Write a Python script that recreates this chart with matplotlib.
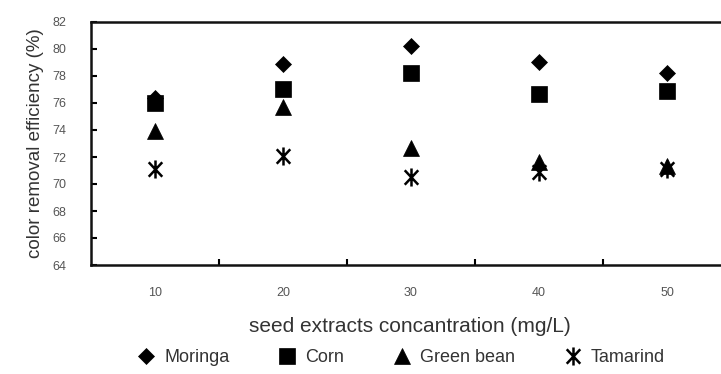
import matplotlib.pyplot as plt
from matplotlib.path import Path

conc = ["10", "20", "30", "40", "50"]
moringa = [76.4, 78.9, 80.2, 79.0, 78.2]
corn = [76.0, 77.0, 78.2, 76.7, 76.9]
green_bean = [73.9, 75.7, 72.7, 71.6, 71.3]
tamarind = [71.1, 72.1, 70.5, 70.9, 71.1]

plt.rcParams['font.family'] = ['Liberation Sans', 'DejaVu Sans']

# vertical bar plus an X, like the original's star marker
M, L = Path.MOVETO, Path.LINETO
star = Path([(0, -1), (0, 1), (-0.75, -0.8), (0.75, 0.8), (-0.75, 0.8), (0.75, -0.8)],
            [M, L, M, L, M, L])

W, H = 721, 374
fig = plt.figure(figsize=(W / 100, H / 100), dpi=100)
# axes right edge runs past the picture, as in the cropped original
ax = fig.add_axes([91 / W, 1 - 265 / H, (731 - 91) / W, (265 - 22) / H])

x = list(range(1, len(conc) + 1))
series = [
    ("Moringa", moringa, "D", 8),
    ("Corn", corn, "s", 11),
    ("Green bean", green_bean, "^", 11),
    ("Tamarind", tamarind, star, 13),
]
for name, vals, mk, ms in series:
    ax.plot(x, vals, linestyle="none", marker=mk, markersize=ms, color="black",
            markeredgewidth=1.8 if mk is star else 0.5, label=name)

ax.set_xlim(0.5, 5.5)
ax.set_ylim(64, 82)
ax.set_yticks(range(64, 83, 2))
ax.set_xticks([i + 0.5 for i in range(1, 5)])
ax.set_xticklabels([])
ax.set_xticks(x, minor=True)
ax.set_xticklabels(conc, minor=True)
ax.tick_params(axis="x", which="major", direction="in", length=4, width=1.5)
ax.tick_params(axis="x", which="minor", length=0, pad=16, labelsize=9, labelcolor="#555555")
ax.tick_params(axis="y", direction="in", length=4, width=1.5, labelsize=9,
               labelcolor="#555555", pad=18)
for s in ax.spines.values():
    s.set_linewidth(1.8)
    s.set_color("#111111")

ax.set_ylabel("color removal efficiency (%)", fontsize=13.5, color="#333333", labelpad=6)
fig.text(410 / W, 1 - 327 / H, "seed extracts concantration (mg/L)", fontsize=15,
         color="#333333", ha="center", va="center")

fig.legend(loc="center", bbox_to_anchor=(400 / W, 1 - 358 / H), ncol=4, frameon=False,
           fontsize=13, labelcolor="#333333", handletextpad=0.4, columnspacing=2.6,
           handlelength=1.2, borderpad=0)

fig.savefig("out.png", dpi=100)
